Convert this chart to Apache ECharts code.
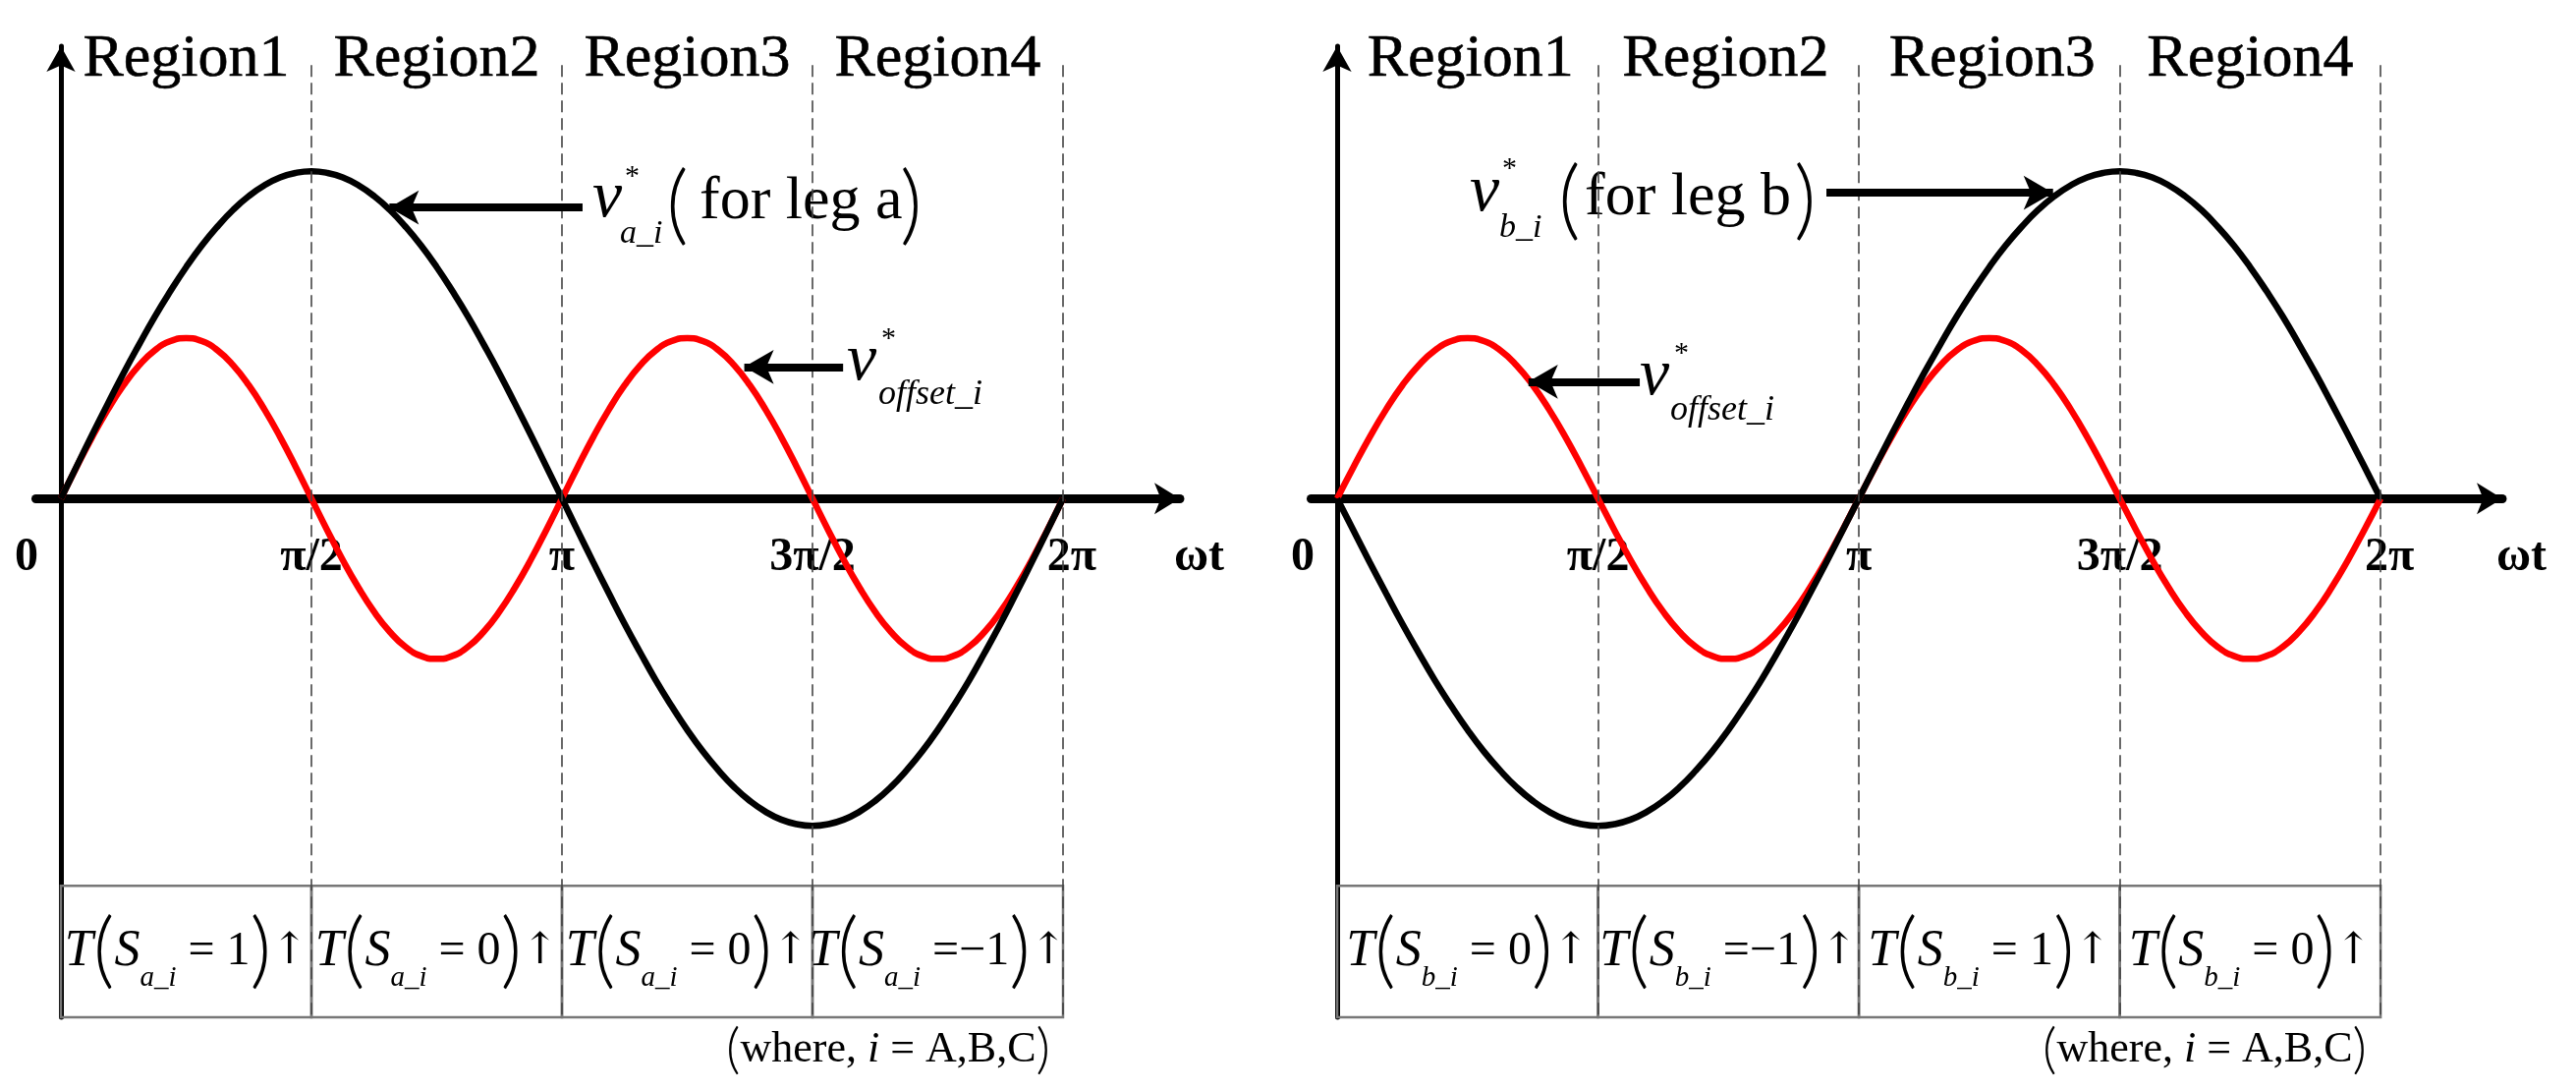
<!DOCTYPE html>
<html>
<head>
<meta charset="utf-8">
<script src="https://cdn.jsdelivr.net/npm/echarts@6/dist/echarts.min.js"></script>
<style>
html, body { margin: 0; padding: 0; background: #fff; }
#chart { width: 2622px; height: 1109px; }
</style>
</head>
<body>
<div id="chart"></div>
<script>
// 角度(度), 每 π/32 取一个点
let angles = [0, 5.625, 11.25, 16.875, 22.5, 28.125, 33.75, 39.375, 45, 50.625, 56.25, 61.875, 67.5, 73.125, 78.75, 84.375,
	90, 95.625, 101.25, 106.875, 112.5, 118.125, 123.75, 129.375, 135, 140.625, 146.25, 151.875, 157.5, 163.125, 168.75, 174.375,
	180, 185.625, 191.25, 196.875, 202.5, 208.125, 213.75, 219.375, 225, 230.625, 236.25, 241.875, 247.5, 253.125, 258.75, 264.375,
	270, 275.625, 281.25, 286.875, 292.5, 298.125, 303.75, 309.375, 315, 320.625, 326.25, 331.875, 337.5, 343.125, 348.75, 354.375, 360]

// 读图得到的曲线值 (以 v_a 峰值为 1)
let vaValues = [0, 0.098, 0.195, 0.290, 0.383, 0.471, 0.556, 0.634, 0.707, 0.773, 0.831, 0.882, 0.924, 0.957, 0.981, 0.995,
	1.000, 0.995, 0.981, 0.957, 0.924, 0.882, 0.831, 0.773, 0.707, 0.634, 0.556, 0.471, 0.383, 0.290, 0.195, 0.098,
	0, -0.098, -0.195, -0.290, -0.383, -0.471, -0.556, -0.634, -0.707, -0.773, -0.831, -0.882, -0.924, -0.957, -0.981, -0.995,
	-1.000, -0.995, -0.981, -0.957, -0.924, -0.882, -0.831, -0.773, -0.707, -0.634, -0.556, -0.471, -0.383, -0.290, -0.195, -0.098, 0]
let vbValues = [0, -0.098, -0.195, -0.290, -0.383, -0.471, -0.556, -0.634, -0.707, -0.773, -0.831, -0.882, -0.924, -0.957, -0.981, -0.995,
	-1.000, -0.995, -0.981, -0.957, -0.924, -0.882, -0.831, -0.773, -0.707, -0.634, -0.556, -0.471, -0.383, -0.290, -0.195, -0.098,
	0, 0.098, 0.195, 0.290, 0.383, 0.471, 0.556, 0.634, 0.707, 0.773, 0.831, 0.882, 0.924, 0.957, 0.981, 0.995,
	1.000, 0.995, 0.981, 0.957, 0.924, 0.882, 0.831, 0.773, 0.707, 0.634, 0.556, 0.471, 0.383, 0.290, 0.195, 0.098, 0]
let offsetValues = [0, 0.096, 0.188, 0.272, 0.346, 0.407, 0.453, 0.481, 0.490, 0.481, 0.453, 0.407, 0.346, 0.272, 0.188, 0.096,
	0, -0.096, -0.188, -0.272, -0.346, -0.407, -0.453, -0.481, -0.490, -0.481, -0.453, -0.407, -0.346, -0.272, -0.188, -0.096,
	0, 0.096, 0.188, 0.272, 0.346, 0.407, 0.453, 0.481, 0.490, 0.481, 0.453, 0.407, 0.346, 0.272, 0.188, 0.096,
	0, -0.096, -0.188, -0.272, -0.346, -0.407, -0.453, -0.481, -0.490, -0.481, -0.453, -0.407, -0.346, -0.272, -0.188, -0.096, 0]

let tickValues = [0, 90, 180, 270, 360]
let tickLabels = ['0', 'π/2', 'π', '3π/2', '2π']
let regionNames = ['Region1', 'Region2', 'Region3', 'Region4']
let regionBounds = [0, 90, 180, 270, 360]
let stateA = ['1', '0', '0', '−1']
let stateB = ['0', '−1', '1', '0']

let font = 'Liberation Serif'
let thin = 'Lato'

// 两个面板的布局
let panels = [
	{
		left: 36.5, width: 1164.5, yOffset: -25.5, leg: 'a', values: vaValues, states: stateA,
		regionX: [45, 135, 225, 315],
		vArrow: [[187.4, 0.889], [118, 0.889]],
		offArrow: [[281, 0.402], [245.5, 0.402]],
		noteRight: 1069
	},
	{
		left: 1334.5, width: 1212.5, yOffset: -26.5, leg: 'b', values: vbValues, states: stateB,
		regionX: [46, 134, 226, 315],
		vArrow: [[168.8, 0.934], [247, 0.934]],
		offArrow: [[104.4, 0.357], [66, 0.357]],
		noteRight: 2409
	}
]

// 注释文字 (像素位置)
let notes = [
	{t: 'v', x: 603, y: 202, s: 68, it: true},
	{t: '*', x: 636, y: 180, s: 30},
	{t: 'a_i', x: 631, y: 238, s: 34, it: true},
	{t: '(', x: 678, y: 210, s: 88, f: thin},
	{t: 'for leg a', x: 712, y: 206, s: 62},
	{t: ')', x: 916, y: 210, s: 88, f: thin},
	{t: 'v', x: 862, y: 368, s: 68, it: true},
	{t: '*', x: 897, y: 345, s: 30},
	{t: 'offset_i', x: 894, y: 402, s: 36, it: true},

	{t: 'v', x: 1496, y: 196, s: 68, it: true},
	{t: '*', x: 1529, y: 172, s: 30},
	{t: 'b_i', x: 1526, y: 232, s: 34, it: true},
	{t: '(', x: 1586, y: 205, s: 88, f: thin},
	{t: 'for leg b', x: 1613, y: 202, s: 62},
	{t: ')', x: 1826, y: 205, s: 88, f: thin},
	{t: 'v', x: 1669, y: 383, s: 68, it: true},
	{t: '*', x: 1704, y: 360, s: 30},
	{t: 'offset_i', x: 1700, y: 418, s: 36, it: true}
]

let yMin = -1.585
let yMax = 1.382
let tableTop = -1.183

let cellRich = {
	T: {fontFamily: font, fontStyle: 'italic', fontSize: 52, color: '#000'},
	p: {fontFamily: thin, fontWeight: 300, fontSize: 84, lineHeight: 84, color: '#000'},
	S: {fontFamily: font, fontStyle: 'italic', fontSize: 52, color: '#000'},
	sub: {fontFamily: font, fontStyle: 'italic', fontSize: 29, lineHeight: 36, verticalAlign: 'bottom', color: '#000'},
	eq: {fontFamily: font, fontSize: 48, color: '#000'},
	up: {fontFamily: 'DejaVu Serif', fontSize: 44, color: '#000'}
}

let cellText = (leg, state) => {
	let eq = state.length > 1 ? ' =' + state : ' = ' + state
	return `{T|T}{p|(}{S|S}{sub|${leg}_i}{eq|${eq}}{p|)}{up|↑}`
}

let tickRich = {
	z: {fontFamily: font, fontWeight: 'bold', fontSize: 48, color: '#000', padding: [0, 70, 0, 0]},
	n: {fontFamily: font, fontWeight: 'bold', fontSize: 48, color: '#000'},
	e: {fontFamily: font, fontWeight: 'bold', fontSize: 48, color: '#000', padding: [0, 0, 0, 18]}
}

let grids = [], xAxes = [], yAxes = [], series = [], graphics = []

panels.forEach((pn, i) => {
	grids.push({left: pn.left, top: 47, width: pn.width, height: 988, outerBoundsMode: 'none'})

	xAxes.push({
		gridIndex: i, type: 'value', min: -9, max: 402, position: 'bottom', offset: -527.8,
		axisLine: {show: true, onZero: false, symbol: ['none', 'arrow'], symbolSize: [24, 26],
			lineStyle: {color: '#000', width: 9}},
		axisTick: {show: false},
		splitLine: {show: false},
		axisLabel: {
			customValues: tickValues,
			margin: 36,
			formatter: (v) => {
				let idx = tickValues.indexOf(v)
				if (idx === 0) return `{z|${tickLabels[idx]}}`
				if (idx === tickValues.length - 1) return `{e|${tickLabels[idx]}}`
				return `{n|${tickLabels[idx]}}`
			},
			rich: tickRich
		},
		name: 'ωt', nameLocation: 'end', nameGap: -6,
		nameTextStyle: {fontFamily: font, fontWeight: 'bold', fontSize: 48, color: '#000',
			verticalAlign: 'top', lineHeight: 120}
	})

	yAxes.push({
		gridIndex: i, type: 'value', min: yMin, max: yMax, position: 'left', offset: pn.yOffset,
		axisLine: {show: true, onZero: false, symbol: ['none', 'arrow'], symbolSize: [22, 26],
			lineStyle: {color: '#000', width: 5}},
		axisTick: {show: false},
		axisLabel: {show: false},
		splitLine: {show: false}
	})

	// 表格 + 区域分割虚线
	series.push({
		type: 'line', xAxisIndex: i, yAxisIndex: i, data: [], silent: true,
		markArea: {
			silent: true,
			itemStyle: {color: 'rgba(0,0,0,0)', borderColor: '#777', borderWidth: 2.5},
			label: {show: true, position: 'inside', formatter: (p) => cellText(pn.leg, pn.states[p.dataIndex]), rich: cellRich},
			data: pn.states.map((s, k) => [{coord: [regionBounds[k], tableTop]}, {coord: [regionBounds[k + 1], yMin]}])
		},
		markLine: {
			silent: true, symbol: ['none', 'none'], label: {show: false},
			lineStyle: {type: [12, 6], color: '#444', width: 1.6},
			data: regionBounds.slice(1).map(b => [{coord: [b, 1.324]}, {coord: [b, yMin]}])
		}
	})

	// 偏移量 (红)
	series.push({
		type: 'line', xAxisIndex: i, yAxisIndex: i, smooth: true, showSymbol: false, silent: true,
		lineStyle: {color: '#ff0000', width: 6.5}, z: 3,
		data: angles.map((a, k) => [a, offsetValues[k]]),
		markLine: {
			silent: true, symbol: ['none', 'arrow'], symbolSize: [26, 30], label: {show: false},
			lineStyle: {type: 'solid', color: '#000', width: 8},
			data: [[{coord: pn.offArrow[0]}, {coord: pn.offArrow[1]}]]
		}
	})

	// 调制波 (黑)
	series.push({
		type: 'line', xAxisIndex: i, yAxisIndex: i, smooth: true, showSymbol: false, silent: true,
		lineStyle: {color: '#000', width: 6.5}, z: 4,
		data: angles.map((a, k) => [a, pn.values[k]]),
		markLine: {
			silent: true, symbol: ['none', 'arrow'], symbolSize: [26, 30], label: {show: false},
			lineStyle: {type: 'solid', color: '#000', width: 8},
			data: [[{coord: pn.vArrow[0]}, {coord: pn.vArrow[1]}]]
		}
	})

	// Region 标题
	series.push({
		type: 'scatter', xAxisIndex: i, yAxisIndex: i, symbolSize: 0, silent: true,
		itemStyle: {color: '#000', opacity: 1},
		data: pn.regionX.map(x => [x, 1.342]),
		label: {show: true, position: 'inside', formatter: (p) => regionNames[p.dataIndex],
			fontFamily: font, fontSize: 62, color: '#000', opacity: 1,
			textBorderColor: '#000', textBorderWidth: 0.6}
	})

	graphics.push({
		type: 'text', x: pn.noteRight, y: 1068, silent: true,
		style: {
			text: '{p|(}{t|where, }{i|i}{t| = A,B,C}{p|)}',
			align: 'right', verticalAlign: 'middle',
			rich: {
				p: {fontFamily: thin, fontWeight: 300, fontSize: 56, fill: '#000'},
				t: {fontFamily: font, fontSize: 44, fill: '#000'},
				i: {fontFamily: font, fontStyle: 'italic', fontSize: 44, fill: '#000'}
			}
		}
	})
})

notes.forEach(n => {
	let weight = n.f === thin ? '300 ' : ''
	graphics.push({
		type: 'text', x: n.x, y: n.y, silent: true,
		style: {
			text: n.t, fill: '#000', align: 'left', verticalAlign: 'middle',
			font: `${n.it ? 'italic ' : ''}${weight}${n.s}px "${n.f || font}"`
		}
	})
})

let myChart = echarts.init(document.getElementById('chart'))
myChart.setOption({
	animation: false,
	backgroundColor: '#fff',
	grid: grids,
	xAxis: xAxes,
	yAxis: yAxes,
	series: series,
	graphic: graphics
})
</script>
</body>
</html>
